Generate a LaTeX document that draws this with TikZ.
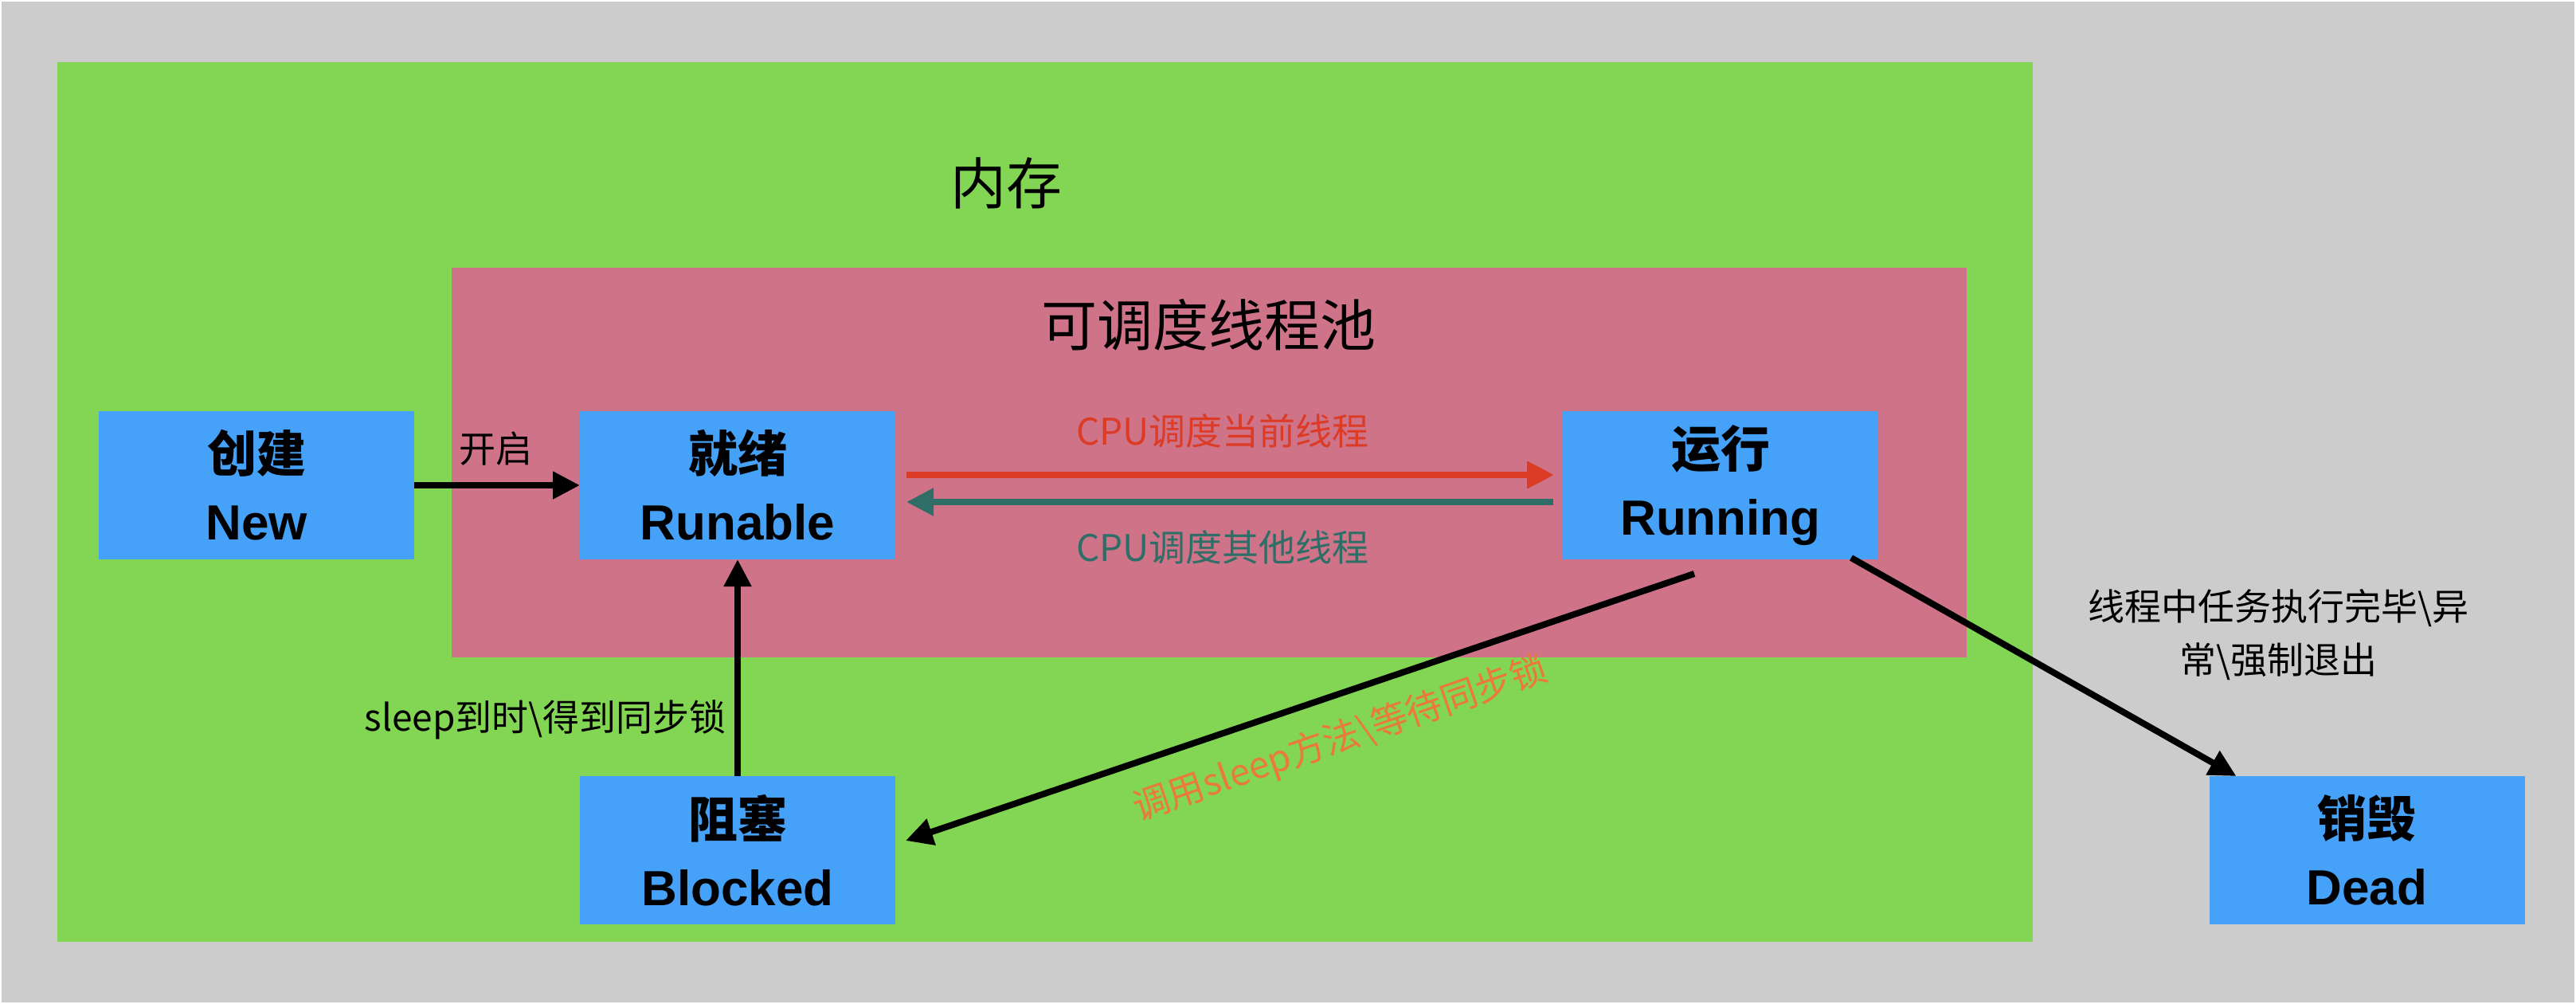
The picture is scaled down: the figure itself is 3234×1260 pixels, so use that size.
\documentclass[tikz,border=0pt]{standalone}
\usepackage{fontspec}
\setmainfont{Liberation Sans}
\newfontfamily\cjk{Noto Sans CJK SC}
\usetikzlibrary{arrows.meta,calc}
\definecolor{bggray}{HTML}{CCCCCC}
\definecolor{memgreen}{HTML}{83D554}
\definecolor{poolpink}{HTML}{CF7389}
\definecolor{boxblue}{HTML}{45A2F8}
\definecolor{cpured}{HTML}{DC3B26}
\definecolor{cputeal}{HTML}{2E6E66}
\definecolor{sleeporange}{HTML}{EA7A3C}
\begin{document}
\begin{tikzpicture}[x=1pt,y=-1pt,
  state/.style={fill=boxblue, minimum width=396pt, minimum height=186pt, inner sep=0pt, outer sep=0pt, align=center, font=\fontsize{62}{85}\selectfont\bfseries},
  arr/.style={line width=8pt, -{Triangle[length=34pt,width=33pt]}},
  lbl/.style={font=\cjk\fontsize{46}{67}\selectfont, inner sep=0pt, align=center},
  title/.style={font=\cjk\fontsize{70}{80}\selectfont, inner sep=0pt}]
\useasboundingbox (0,0) rectangle (3234,1260);
\fill[white] (0,0) rectangle (3234,1260);
\fill[bggray] (2,2) rectangle (3232,1258);
% containers
\fill[memgreen] (72,78) rectangle (2552,1182);
\fill[poolpink] (567,336) rectangle (2469,825);
\node[title] (memt) at (1263,230) {内存};
\node[title] (poolt) at (1517,408) {可调度线程池};
% states
\node[state] (new) at (322,609) {{\cjk 创建}\\New};
\node[state] (run) at (926,609) {{\cjk 就绪}\\Runable};
\node[state] (running) at (2160,609) {{\cjk 运行}\\Running};
\node[state] (blocked) at (926,1067) {{\cjk 阻塞}\\Blocked};
\node[state] (dead) at (2971.5,1067) {{\cjk 销毁}\\Dead};
% connectors
\draw[arr] (new.east) -- (run.west);
\node[lbl] (kq) at (622,563) {开启};
\draw[arr, cpured] ($(run.east)+(14,-13)$) -- ($(running.west)+(-11,-13)$);
\draw[arr, cputeal] ($(running.west)+(-12,21)$) -- ($(run.east)+(14,21)$);
\node[lbl, text=cpured] (l1) at (1535,541) {CPU{\cjk 调度当前线程}};
\node[lbl, text=cputeal] (l2) at (1535,687) {CPU{\cjk 调度其他线程}};
\draw[arr] (blocked.north) -- (run.south);
\node[lbl, anchor=east] (l3) at (912,903) {sleep{\cjk 到时\textbackslash 得到同步锁}};
\draw[arr] ($(running.south)+(-33,18)$) -- ($(blocked.east)+(13,-12)$);
\node[lbl, text=sleeporange, rotate=19] (l4) at (1683,928) {{\cjk 调用}sleep{\cjk 方法\textbackslash 等待同步锁}};
\draw[arr] ($(running.south east)+(-34,-2)$) -- ($(dead.north west)+(34,0)$);
\node[lbl] (l5) at (2860,797) {线程中任务执行完毕\textbackslash 异\\常\textbackslash 强制退出};
\end{tikzpicture}
\end{document}
